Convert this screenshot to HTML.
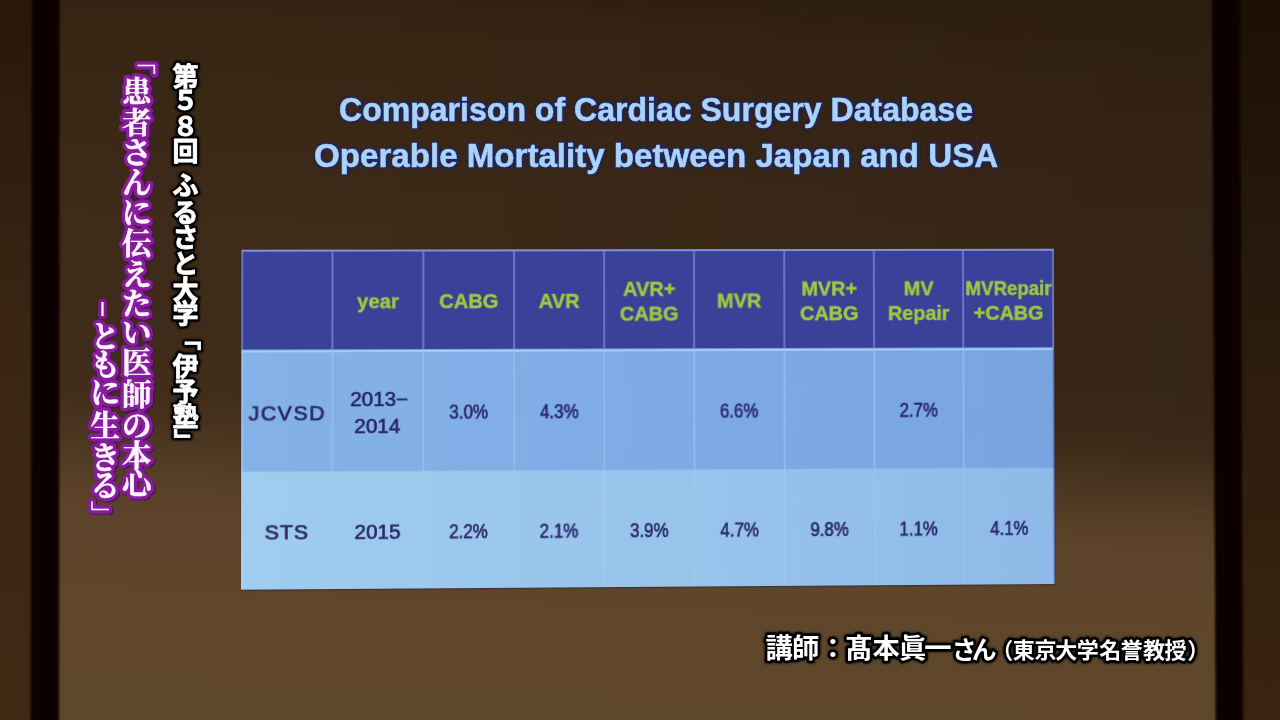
<!DOCTYPE html>
<html><head><meta charset="utf-8"><title>slide</title>
<style>
html,body{margin:0;padding:0;background:#3a2614;}
body{width:1280px;height:720px;overflow:hidden;position:relative;font-family:"Liberation Sans",sans-serif;}
#bg{position:absolute;left:0;top:0;width:1280px;height:720px;}
#tbl{position:absolute;left:0;top:0;width:812px;height:340px;transform-origin:0 0;filter:blur(0.65px);box-shadow:0 1px 1.5px rgba(45,30,35,0.65);}
#tbl svg{display:block;}
#ov{position:absolute;left:0;top:0;width:1280px;height:720px;}
</style></head><body>
<svg id="bg" width="1280" height="720" viewBox="0 0 1280 720">
<defs>
<linearGradient id="gs" gradientUnits="userSpaceOnUse" x1="640" y1="0" x2="612" y2="720"><stop offset="0.0000" stop-color="rgb(50,33,17)"/><stop offset="0.0500" stop-color="rgb(55,37,20)"/><stop offset="0.3000" stop-color="rgb(61,42,25)"/><stop offset="0.5417" stop-color="rgb(63,44,25)"/><stop offset="0.5972" stop-color="rgb(68,48,28)"/><stop offset="0.6458" stop-color="rgb(77,56,34)"/><stop offset="0.6806" stop-color="rgb(86,62,38)"/><stop offset="0.7222" stop-color="rgb(91,66,41)"/><stop offset="0.8056" stop-color="rgb(95,70,43)"/><stop offset="1.0000" stop-color="rgb(95,71,44)"/></linearGradient>
<linearGradient id="gh" x1="0" y1="0" x2="1" y2="0"><stop offset="0.3" stop-color="#000" stop-opacity="0"/><stop offset="1" stop-color="#000" stop-opacity="0.13"/></linearGradient>
<linearGradient id="gv" x1="0" y1="0" x2="0" y2="1"><stop offset="0" stop-color="#fff" stop-opacity="1"/><stop offset="0.6" stop-color="#fff" stop-opacity="1"/><stop offset="0.75" stop-color="#fff" stop-opacity="0"/></linearGradient>
<mask id="mh"><rect width="1280" height="720" fill="url(#gv)"/></mask>
<linearGradient id="gl" x1="0" y1="0" x2="0" y2="1"><stop offset="0" stop-color="rgb(40,23,10)"/><stop offset="0.45" stop-color="rgb(58,37,19)"/><stop offset="1" stop-color="rgb(64,42,20)"/></linearGradient>
<linearGradient id="gr" x1="0" y1="0" x2="0" y2="1"><stop offset="0" stop-color="rgb(28,15,6)"/><stop offset="0.5" stop-color="rgb(44,28,14)"/><stop offset="1" stop-color="rgb(57,36,15)"/></linearGradient>
<filter id="b1"><feGaussianBlur stdDeviation="0.8"/></filter>
</defs>
<rect width="1280" height="720" fill="url(#gs)"/>
<rect width="1280" height="720" fill="url(#gh)" mask="url(#mh)"/>
<rect x="0" y="0" width="34" height="720" fill="url(#gl)"/>
<rect x="1238" y="0" width="42" height="720" fill="url(#gr)"/>
<g filter="url(#b1)">
<polygon points="32,-2 59.5,-2 59,722 30.7,722" fill="#080604"/>
<polygon points="1212,-2 1239.7,-2 1243,722 1215.7,722" fill="#080604"/>
</g>
</svg>
<div id="tbl" style="transform:matrix3d(1.0186468,0.0031591599,0,1.740346e-05,-0.0030098538,0.99623359,0,-6.3869942e-06,0,0,1,0,241.5,249.7,0,1)"><svg width="812" height="340" viewBox="0 0 812 340"><defs><linearGradient id="gr1" x1="0" y1="0" x2="1" y2="0"><stop offset="0" stop-color="#84b2e8"/><stop offset="0.5" stop-color="#7eabe4"/><stop offset="1" stop-color="#78a4e0"/></linearGradient><linearGradient id="gr2" x1="0" y1="0" x2="1" y2="0"><stop offset="0" stop-color="#a0ccee"/><stop offset="0.5" stop-color="#98c4ec"/><stop offset="1" stop-color="#8fbae8"/></linearGradient><linearGradient id="shade" x1="0" y1="0" x2="0" y2="1"><stop offset="0" stop-color="#fff" stop-opacity="0"/><stop offset="1" stop-color="#fff" stop-opacity="0"/></linearGradient></defs><rect x="0" y="0" width="812" height="340" fill="#8294dc"/><rect x="0" y="2" width="812" height="98.6" fill="#3a4199"/><rect x="0" y="100.6" width="812" height="121.6" fill="url(#gr1)"/><rect x="0" y="222.2" width="812" height="117.8" fill="url(#gr2)"/><rect x="0" y="100.6" width="812" height="2.2" fill="#a5d2f8"/><rect x="0" y="0" width="1.3" height="100.6" fill="#8093dc"/><rect x="89.13" y="0" width="1.3" height="100.6" fill="#8093dc"/><rect x="89.18" y="100.6" width="1.4" height="121.6" fill="#9cc6f0" opacity="0.8"/><rect x="89.28" y="222.2" width="1.2" height="117.8" fill="#a8d2f2" opacity="0.45"/><rect x="179.13" y="0" width="1.3" height="100.6" fill="#8093dc"/><rect x="179.18" y="100.6" width="1.4" height="121.6" fill="#9cc6f0" opacity="0.8"/><rect x="179.28" y="222.2" width="1.2" height="117.8" fill="#a8d2f2" opacity="0.45"/><rect x="269.32" y="0" width="1.3" height="100.6" fill="#8093dc"/><rect x="269.37" y="100.6" width="1.4" height="121.6" fill="#9cc6f0" opacity="0.8"/><rect x="269.47" y="222.2" width="1.2" height="117.8" fill="#a8d2f2" opacity="0.45"/><rect x="358.98" y="0" width="1.3" height="100.6" fill="#8093dc"/><rect x="359.03" y="100.6" width="1.4" height="121.6" fill="#9cc6f0" opacity="0.8"/><rect x="359.13" y="222.2" width="1.2" height="117.8" fill="#a8d2f2" opacity="0.45"/><rect x="448.83" y="0" width="1.3" height="100.6" fill="#8093dc"/><rect x="448.88" y="100.6" width="1.4" height="121.6" fill="#9cc6f0" opacity="0.8"/><rect x="448.98" y="222.2" width="1.2" height="117.8" fill="#a8d2f2" opacity="0.45"/><rect x="539.35" y="0" width="1.3" height="100.6" fill="#8093dc"/><rect x="539.4" y="100.6" width="1.4" height="121.6" fill="#9cc6f0" opacity="0.8"/><rect x="539.5" y="222.2" width="1.2" height="117.8" fill="#a8d2f2" opacity="0.45"/><rect x="629.55" y="0" width="1.3" height="100.6" fill="#8093dc"/><rect x="629.6" y="100.6" width="1.4" height="121.6" fill="#9cc6f0" opacity="0.8"/><rect x="629.7" y="222.2" width="1.2" height="117.8" fill="#a8d2f2" opacity="0.45"/><rect x="719.45" y="0" width="1.3" height="100.6" fill="#8093dc"/><rect x="719.5" y="100.6" width="1.4" height="121.6" fill="#9cc6f0" opacity="0.8"/><rect x="719.6" y="222.2" width="1.2" height="117.8" fill="#a8d2f2" opacity="0.45"/><rect x="810.5" y="0" width="1.3" height="100.6" fill="#8093dc"/><rect x="0" y="100.6" width="1.3" height="239.4" fill="#b4d6f6" opacity="0.8"/><g font-family="Liberation Sans, sans-serif" font-weight="bold" font-size="20" fill="#9ec842" stroke="#9ec842" stroke-width="0.45" text-anchor="middle"><text x="134.88" y="59">year</text><text x="224.97" y="59">CABG</text><text x="314.9" y="59">AVR</text><text x="404.65" y="46.7">AVR+</text><text x="404.65" y="71.6">CABG</text><text x="494.84" y="59">MVR</text><text x="585.2" y="46.7">MVR+</text><text x="585.2" y="71.6">CABG</text><text x="675.25" y="46.7">MV</text><text x="675.25" y="71.6">Repair</text><text x="766.1" y="46.7" textLength="87" lengthAdjust="spacingAndGlyphs">MVRepair</text><text x="766.1" y="71.6">+CABG</text></g><g font-family="Liberation Sans, sans-serif" font-size="21" fill="#2b2b62" stroke="#2b2b62" stroke-width="0.75" text-anchor="middle"><text x="44.64" y="171.3" textLength="75" lengthAdjust="spacing">JCVSD</text><text x="44.64" y="289.7" textLength="43" lengthAdjust="spacing">STS</text></g><rect x="153.48" y="149.5" width="10.6" height="2" fill="#2c2a6c"/><g font-family="Liberation Sans, sans-serif" font-size="19.5" fill="#29266a" stroke="#29266a" stroke-width="0.6" stroke-linejoin="round"><text x="205.61" y="170.3" textLength="38.5" lengthAdjust="spacingAndGlyphs">3.0%</text><text x="295.67" y="170.3" textLength="38.5" lengthAdjust="spacingAndGlyphs">4.3%</text><text x="475.2" y="170.3" textLength="38.5" lengthAdjust="spacingAndGlyphs">6.6%</text><text x="655.66" y="170.3" textLength="38.5" lengthAdjust="spacingAndGlyphs">2.7%</text><text x="111.83" y="289.6" textLength="45.5" lengthAdjust="spacingAndGlyphs">2015</text><text x="205.39" y="289.6" textLength="38.5" lengthAdjust="spacingAndGlyphs">2.2%</text><text x="295.31" y="289.6" textLength="38.5" lengthAdjust="spacingAndGlyphs">2.1%</text><text x="385.29" y="289.6" textLength="38.5" lengthAdjust="spacingAndGlyphs">3.9%</text><text x="475.61" y="289.6" textLength="38.5" lengthAdjust="spacingAndGlyphs">4.7%</text><text x="565.73" y="289.6" textLength="38.5" lengthAdjust="spacingAndGlyphs">9.8%</text><text x="655.32" y="289.6" textLength="38.5" lengthAdjust="spacingAndGlyphs">1.1%</text><text x="746.87" y="289.6" textLength="38.5" lengthAdjust="spacingAndGlyphs">4.1%</text><text x="107.42" y="157.4" textLength="45.5" lengthAdjust="spacingAndGlyphs">2013</text><text x="111.58" y="183.6" textLength="45.5" lengthAdjust="spacingAndGlyphs">2014</text></g><rect x="810.6" y="100.6" width="1.4" height="239.4" fill="#3a3f9a" opacity="0.55"/><rect x="0" y="0" width="812" height="340" fill="url(#shade)"/></svg></div><svg id="ov" width="1280" height="720" viewBox="0 0 1280 720"><defs><filter id="bt" x="-5%" y="-20%" width="110%" height="140%"><feGaussianBlur stdDeviation="0.75"/></filter><filter id="bts" x="-5%" y="-20%" width="110%" height="140%"><feGaussianBlur stdDeviation="0.85"/></filter><filter id="bc"><feGaussianBlur stdDeviation="0.35"/></filter><filter id="bsh"><feGaussianBlur stdDeviation="1.3"/></filter></defs><g filter="url(#bts)" transform="translate(0.6,0.7)" font-family="Liberation Sans, sans-serif" font-weight="bold" font-size="32.5" fill="#1e2670" stroke="#1e2670" stroke-width="3.2" stroke-linejoin="round" opacity="0.95"><text x="339.02" y="120.6" textLength="634" lengthAdjust="spacingAndGlyphs">Comparison of Cardiac Surgery Database</text><text x="314.11" y="166.6" textLength="684" lengthAdjust="spacingAndGlyphs">Operable Mortality between Japan and USA</text></g><g filter="url(#bt)" font-family="Liberation Sans, sans-serif" font-weight="bold" font-size="32.5" fill="#a9d3f7" stroke="#a9d3f7" stroke-width="0.5" stroke-linejoin="round"><text x="339.02" y="120.6" textLength="634" lengthAdjust="spacingAndGlyphs">Comparison of Cardiac Surgery Database</text><text x="314.11" y="166.6" textLength="684" lengthAdjust="spacingAndGlyphs">Operable Mortality between Japan and USA</text></g><g filter="url(#bc)"><g transform="translate(1.1,1.2)" font-family="'Liberation Serif','Noto Serif CJK SC',serif" font-weight="bold" font-size="29.5" fill="none" stroke="#4e0f5e" stroke-width="7.6" stroke-linejoin="round" opacity="0.9"><text x="122.05 122.05 122.05 122.05 122.05 122.05 122.05 122.05 122.05 122.05 122.05 122.05 122.05 122.05" y="101.77 133.26 163.25 193.18 222.85 253.57 285.01 313.95 343.14 373 405.11 436.04 466.03 494.14">患者さんに伝えたい医師の本心</text><text x="141.3" y="49.5" font-size="24.5" style="writing-mode:vertical-rl">「</text><text x="90.55 90.55 90.55 90.55 90.55 90.55" y="346.6 375.48 402.99 436.17 467.7 495.71">ともに生きる</text><text x="101.3" y="501.3" font-size="24.5" style="writing-mode:vertical-rl">」</text></g><g font-family="'Liberation Serif','Noto Serif CJK SC',serif" font-weight="bold" font-size="29.5" fill="none" stroke="#871b9c" stroke-width="7.4" stroke-linejoin="round" stroke-linecap="round"><text x="122.05 122.05 122.05 122.05 122.05 122.05 122.05 122.05 122.05 122.05 122.05 122.05 122.05 122.05" y="101.77 133.26 163.25 193.18 222.85 253.57 285.01 313.95 343.14 373 405.11 436.04 466.03 494.14">患者さんに伝えたい医師の本心</text><text x="141.3" y="49.5" font-size="24.5" style="writing-mode:vertical-rl">「</text><text x="90.55 90.55 90.55 90.55 90.55 90.55" y="346.6 375.48 402.99 436.17 467.7 495.71">ともに生きる</text><text x="101.3" y="501.3" font-size="24.5" style="writing-mode:vertical-rl">」</text></g><g font-family="'Liberation Serif','Noto Serif CJK SC',serif" font-weight="bold" font-size="29.5" fill="#fdf4ff" stroke="#fdf4ff" stroke-width="0.5" stroke-linejoin="round"><text x="122.05 122.05 122.05 122.05 122.05 122.05 122.05 122.05 122.05 122.05 122.05 122.05 122.05 122.05" y="101.77 133.26 163.25 193.18 222.85 253.57 285.01 313.95 343.14 373 405.11 436.04 466.03 494.14">患者さんに伝えたい医師の本心</text><text x="141.3" y="49.5" font-size="24.5" style="writing-mode:vertical-rl">「</text><text x="90.55 90.55 90.55 90.55 90.55 90.55" y="346.6 375.48 402.99 436.17 467.7 495.71">ともに生きる</text><text x="101.3" y="501.3" font-size="24.5" style="writing-mode:vertical-rl">」</text></g><rect x="101.4" y="302" width="2.2" height="14" fill="#fff" stroke="#84199a" stroke-width="6.2" paint-order="stroke" stroke-linejoin="round"/><g filter="url(#bsh)" font-family="'Liberation Sans','Noto Sans CJK JP',sans-serif" font-weight="bold" fill="none" stroke="#000" stroke-width="6.5" stroke-linejoin="round" opacity="0.55"><text font-size="26" x="172.6 172.6 172.6 172.6 172.6 172.6 172.6 172.6 172.6 172.6" y="85.6 110.16 136.27 160.79 195.15 221.51 247.37 273.13 298.66 322.92">第５８回ふるさと大学</text><text font-size="22.4" x="187.4" y="327.5" style="writing-mode:vertical-rl">「</text><text font-size="26" x="172.6 172.6 172.6" y="375.86 400.71 426.29">伊予塾</text><text font-size="22.4" x="182.4" y="429.3" style="writing-mode:vertical-rl">」</text><text font-size="27.3" x="765.6 792.09 819.35 845.24 872.48 898.9 924.22" y="657.6">講師：髙本眞一</text><text font-size="24.86" x="951.67 971.68" y="658.62">さん</text><text font-size="22" x="991.2 1012.81 1034.46 1055.29 1076.82 1099.24 1120.77 1142.88 1164.41 1187.3" y="658.02">（東京大学名誉教授）</text></g><g font-family="'Liberation Sans','Noto Sans CJK JP',sans-serif" font-weight="bold" fill="none" stroke="#050505" stroke-width="5.2" stroke-linejoin="round" stroke-linecap="round"><text font-size="26" x="172.6 172.6 172.6 172.6 172.6 172.6 172.6 172.6 172.6 172.6" y="85.6 110.16 136.27 160.79 195.15 221.51 247.37 273.13 298.66 322.92">第５８回ふるさと大学</text><text font-size="22.4" x="187.4" y="327.5" style="writing-mode:vertical-rl">「</text><text font-size="26" x="172.6 172.6 172.6" y="375.86 400.71 426.29">伊予塾</text><text font-size="22.4" x="182.4" y="429.3" style="writing-mode:vertical-rl">」</text></g><g font-family="'Liberation Sans','Noto Sans CJK JP',sans-serif" font-weight="bold" fill="#ffffff" stroke="#ffffff" stroke-width="0.8" stroke-linejoin="round"><text font-size="26" x="172.6 172.6 172.6 172.6 172.6 172.6 172.6 172.6 172.6 172.6" y="85.6 110.16 136.27 160.79 195.15 221.51 247.37 273.13 298.66 322.92">第５８回ふるさと大学</text><text font-size="22.4" x="187.4" y="327.5" style="writing-mode:vertical-rl">「</text><text font-size="26" x="172.6 172.6 172.6" y="375.86 400.71 426.29">伊予塾</text><text font-size="22.4" x="182.4" y="429.3" style="writing-mode:vertical-rl">」</text></g><g font-family="'Liberation Sans','Noto Sans CJK JP',sans-serif" font-weight="bold" fill="none" stroke="#050505" stroke-width="5.4" stroke-linejoin="round" stroke-linecap="round"><text font-size="27.3" x="765.6 792.09 819.35 845.24 872.48 898.9 924.22" y="657.6">講師：髙本眞一</text><text font-size="24.86" x="951.67 971.68" y="658.62">さん</text><text font-size="22" x="991.2 1012.81 1034.46 1055.29 1076.82 1099.24 1120.77 1142.88 1164.41 1187.3" y="658.02">（東京大学名誉教授）</text></g><g font-family="'Liberation Sans','Noto Sans CJK JP',sans-serif" font-weight="bold" fill="#ffffff"><text font-size="27.3" x="765.6 792.09 819.35 845.24 872.48 898.9 924.22" y="657.6">講師：髙本眞一</text><text font-size="24.86" x="951.67 971.68" y="658.62">さん</text><text font-size="22" x="991.2 1012.81 1034.46 1055.29 1076.82 1099.24 1120.77 1142.88 1164.41 1187.3" y="658.02">（東京大学名誉教授）</text></g></g></svg></body></html>
